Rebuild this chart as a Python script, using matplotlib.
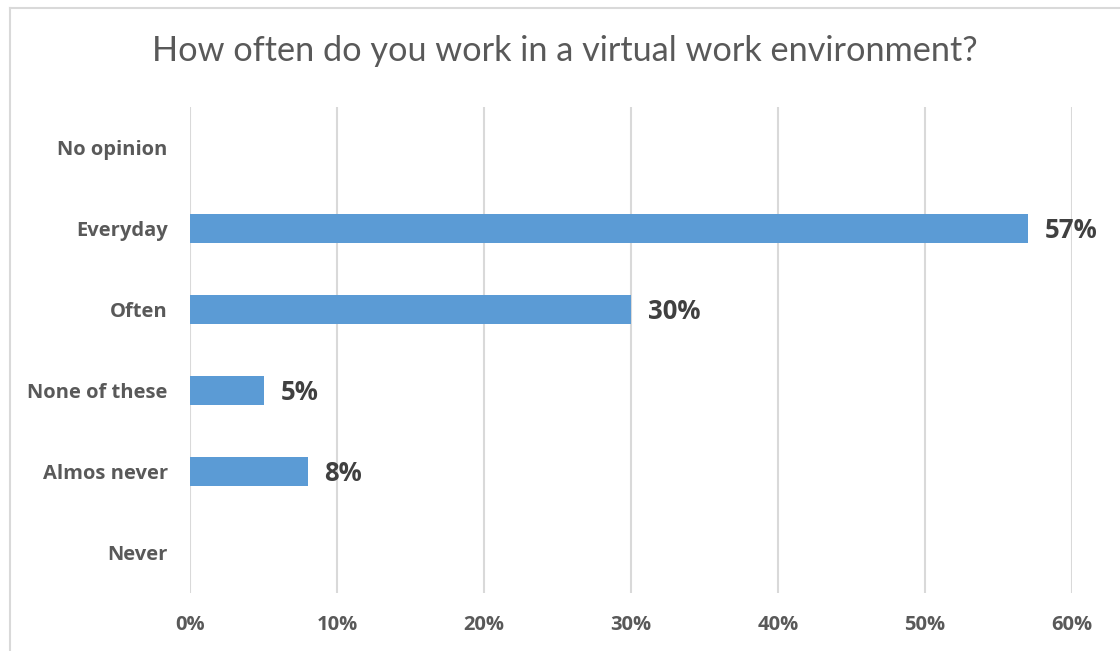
import matplotlib.pyplot as plt
from matplotlib.lines import Line2D

plt.rcParams['font.family'] = ['Open Sans', 'DejaVu Sans']

categories = ['Never', 'Almos never', 'None of these', 'Often', 'Everyday', 'No opinion']
values = [0, 8, 5, 30, 57, 0]
ticks = [0, 10, 20, 30, 40, 50, 60]

fig = plt.figure(figsize=(11.2, 6.51), dpi=100)
ax = fig.add_axes([190/1120, 1 - 593/651, 882/1120, 486/651])

pos = range(len(categories))
ax.barh(pos, values, height=0.36, color='#5b9bd5', zorder=3)
for y, v in zip(pos, values):
    if v > 0:
        ax.text(v + 1.15, y - 0.03, f'{v}%', va='center', ha='left', fontsize=18.5,
                fontweight='bold', color='#404040')

ax.set_xlim(0, 60)
ax.set_ylim(-0.5, len(categories) - 0.5)
ax.set_xticks(ticks)
ax.set_xticklabels([f'{t}%' for t in ticks])
ax.set_yticks(list(pos))
ax.set_yticklabels(categories)
ax.tick_params(axis='both', length=0, labelsize=14.5, labelcolor='#595959')
ax.tick_params(axis='x', pad=16)
ax.tick_params(axis='y', pad=16)
for lab in ax.get_xticklabels() + ax.get_yticklabels():
    lab.set_fontweight('bold')
ax.grid(axis='x', color='#d9d9d9', linewidth=1.5, zorder=0)
for s in ax.spines.values():
    s.set_visible(False)

fig.text(565/1120, 1 - 51/651, 'How often do you work in a virtual work environment?',
         ha='center', va='center', fontsize=24.7, color='#595959',
         family=['Lato', 'DejaVu Sans'])

# outer frame of the chart area
fig.add_artist(Line2D([10/1120, 10/1120], [0, 1 - 8/651], color='#d9d9d9', lw=1.5,
                      transform=fig.transFigure))
fig.add_artist(Line2D([10/1120, 1], [1 - 8/651, 1 - 8/651], color='#d9d9d9', lw=1.5,
                      transform=fig.transFigure))

fig.savefig('out.png', dpi=100, facecolor='white')
